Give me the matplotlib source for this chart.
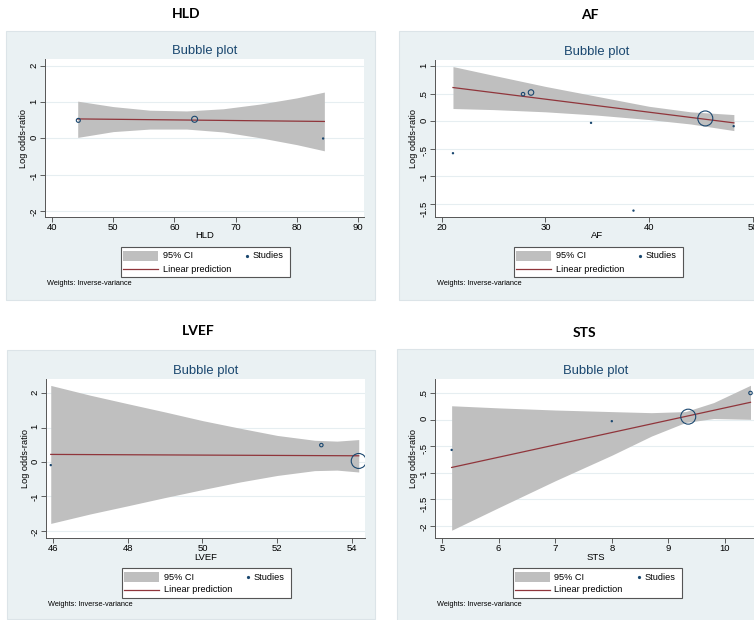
import matplotlib.pyplot as plt
from matplotlib.patches import Rectangle
from matplotlib.lines import Line2D
import numpy as np

plt.rcParams["font.family"] = ["Liberation Sans", "DejaVu Sans"]

W, H = 754, 620

# HLD
hld_x = [44.3, 63.3, 84.3]
hld_y = [0.50, 0.53, 0.00]
hld_w = [4.0, 9.0, 0.4]
hld_band_x = [44.2, 50, 56, 62, 68, 74, 80, 84.5]
hld_band_hi = [1.03, 0.88, 0.78, 0.76, 0.82, 0.95, 1.12, 1.28]
hld_band_lo = [0.03, 0.19, 0.26, 0.26, 0.18, 0.02, -0.17, -0.34]
hld_fit_x = [44.2, 84.5]
hld_fit_y = [0.54, 0.47]
hld_xticks = [40, 50, 60, 70, 80, 90]
hld_yticks = [-2, -1, 0, 1, 2]

# AF
af_x = [21.06, 27.83, 28.6, 34.4, 38.5, 45.44, 48.18]
af_y = [-0.58, 0.49, 0.52, -0.03, -1.62, 0.05, -0.09]
af_w = [0.4, 3.0, 7.5, 0.4, 0.4, 56.0, 0.4]
af_band_x = [21.06, 25, 30, 35, 40, 44, 48.2]
af_band_hi = [0.99, 0.83, 0.63, 0.45, 0.27, 0.17, 0.12]
af_band_lo = [0.23, 0.21, 0.17, 0.11, 0.03, -0.05, -0.17]
af_fit_x = [21.06, 48.2]
af_fit_y = [0.61, -0.03]
af_xticks = [20, 30, 40, 50]
af_yticks = [-1.5, -1, -0.5, 0, 0.5, 1]

# LVEF
lvef_x = [45.94, 53.18, 54.18]
lvef_y = [-0.09, 0.49, 0.03]
lvef_w = [0.4, 3.0, 56.0]
lvef_band_x = [45.94, 47, 48, 49, 50, 51, 52, 53, 53.6, 54.18]
lvef_band_hi = [2.22, 1.935, 1.69, 1.45, 1.20, 0.98, 0.77, 0.63, 0.605, 0.65]
lvef_band_lo = [-1.78, -1.505, -1.27, -1.03, -0.80, -0.58, -0.39, -0.25, -0.235, -0.29]
lvef_fit_x = [45.94, 54.18]
lvef_fit_y = [0.22, 0.18]
lvef_xticks = [46, 48, 50, 52, 54]
lvef_yticks = [-2, -1, 0, 1, 2]

# STS
sts_x = [5.17, 8.0, 9.35, 10.45]
sts_y = [-0.57, -0.03, 0.055, 0.50]
sts_w = [0.4, 0.4, 56.0, 3.0]
sts_band_x = [5.17, 6, 7, 8, 8.7, 9.3, 9.8, 10.45]
sts_band_hi = [0.26, 0.22, 0.18, 0.15, 0.13, 0.15, 0.32, 0.645]
sts_band_lo = [-2.08, -1.655, -1.15, -0.67, -0.31, -0.055, 0.02, 0.005]
sts_fit_x = [5.17, 10.45]
sts_fit_y = [-0.90, 0.325]
sts_xticks = [5, 6, 7, 8, 9, 10]
sts_yticks = [-2, -1.5, -1, -0.5, 0, 0.5]

NAVY = "#1A476F"
MAROON = "#90353B"
CI_GREY = "#BFBFBF"
REGION = "#EAF1F3"


def fx(x):
    return x / W


def fy(y):
    return 1 - y / H


def stata_fmt(v):
    s = f"{v:g}"
    return s.replace("0.", ".")


def panel(fig, name, bg, plot, xlim, ylim, xticks, yticks, title_xy,
          bx, bhi, blo, fitx, fity, px, py, pw):
    # grey-blue graph region
    fig.add_artist(Rectangle((fx(bg[0]), fy(bg[3])), fx(bg[2] - bg[0]), (bg[3] - bg[1]) / H,
                             facecolor=REGION, edgecolor="#DCE4E8", lw=0.8, zorder=-1))
    fig.text(fx(title_xy[0]), fy(title_xy[1]), name, family="Lato", weight="bold",
             fontsize=10, ha="center", va="center")

    x0, y0, x1, y1 = plot
    ax = fig.add_axes([fx(x0), fy(y1), fx(x1 - x0), (y1 - y0) / H])
    ax.set_xlim(*xlim)
    ax.set_ylim(*ylim)

    ax.fill_between(bx, blo, bhi, color=CI_GREY, lw=0, zorder=2)
    ax.plot(fitx, fity, color=MAROON, lw=0.9, zorder=3)
    d = 2 * np.sqrt(np.array(pw))
    ax.scatter(px, py, s=(d * 0.72) ** 2, facecolors="none", edgecolors=NAVY,
               linewidths=0.8, zorder=4)

    ax.set_xticks(xticks)
    ax.set_yticks(yticks)
    ax.set_xticklabels([stata_fmt(v) for v in xticks])
    ax.set_yticklabels([stata_fmt(v) for v in yticks])
    ax.tick_params(direction="out", length=3.6, width=0.6, color="#444444",
                   labelsize=6.8, pad=1)
    ax.tick_params(axis="y", labelrotation=90)
    ax.set_axisbelow(True)
    ax.yaxis.grid(True, color="#E6EEF1", lw=0.8)
    for side in ["top", "right"]:
        ax.spines[side].set_visible(False)
    for side in ["left", "bottom"]:
        ax.spines[side].set_color("#555555")
        ax.spines[side].set_linewidth(0.7)

    wpx, hpx = x1 - x0, y1 - y0
    ax.set_xlabel(name, fontsize=6.8, va="center")
    ax.xaxis.set_label_coords(0.5, -19 / hpx)
    ax.set_ylabel("Log odds-ratio", fontsize=6.6, va="center")
    ax.yaxis.set_label_coords(-21 / wpx, 0.5)

    cx = (x0 + x1) / 2
    fig.text(fx(cx), fy(y0 - 8), "Bubble plot", color=NAVY, fontsize=9.4,
             ha="center", va="center")

    # key box
    kx, ky = cx + 1 - 84.5, y1 + 30
    fig.add_artist(Rectangle((fx(kx), fy(ky + 30)), fx(169), 30 / H,
                             facecolor="white", edgecolor="#555555", lw=0.8, zorder=2))
    fig.add_artist(Rectangle((fx(kx + 2), fy(ky + 14)), fx(35), 10 / H,
                             facecolor=CI_GREY, lw=0, zorder=3))
    fig.add_artist(Line2D([fx(kx + 2), fx(kx + 37)], [fy(ky + 22), fy(ky + 22)],
                          color=MAROON, lw=0.9, zorder=3))
    fig.add_artist(Line2D([fx(kx + 126)], [fy(ky + 9)], marker="o", ms=1.3,
                          color=NAVY, lw=0, zorder=3))
    fig.text(fx(kx + 42), fy(ky + 9), "95% CI", fontsize=6.6, va="center")
    fig.text(fx(kx + 132), fy(ky + 9), "Studies", fontsize=6.6, va="center")
    fig.text(fx(kx + 42), fy(ky + 22), "Linear prediction", fontsize=6.6, va="center")
    fig.text(fx(x0 + 2), fy(y1 + 67), "Weights: Inverse-variance", fontsize=5.3,
             va="center")
    return ax


fig = plt.figure(figsize=(W / 100, H / 100), dpi=100)

panel(fig, "HLD", (6, 31, 375, 300), (45, 59, 364, 217),
      (38.856, 90.98), (-2.166, 2.193), hld_xticks, hld_yticks, (186, 14),
      hld_band_x, hld_band_hi, hld_band_lo, hld_fit_x, hld_fit_y,
      hld_x, hld_y, hld_w)

panel(fig, "AF", (399, 31, 760, 300), (435, 60, 759, 217),
      (19.324, 50.628), (-1.736, 1.109), af_xticks, af_yticks, (590, 15),
      af_band_x, af_band_hi, af_band_lo, af_fit_x, af_fit_y,
      af_x, af_y, af_w)

panel(fig, "LVEF", (7, 350, 375, 619), (46, 379, 365, 538),
      (45.813, 54.348), (-2.203, 2.406), lvef_xticks, lvef_yticks, (198, 331),
      lvef_band_x, lvef_band_hi, lvef_band_lo, lvef_fit_x, lvef_fit_y,
      lvef_x, lvef_y, lvef_w)

panel(fig, "STS", (397, 349, 760, 625), (435, 379, 757, 538),
      (4.876, 10.565), (-2.226, 0.763), sts_xticks, sts_yticks, (584, 333),
      sts_band_x, sts_band_hi, sts_band_lo, sts_fit_x, sts_fit_y,
      sts_x, sts_y, sts_w)

fig.savefig("out.png", dpi=100)
